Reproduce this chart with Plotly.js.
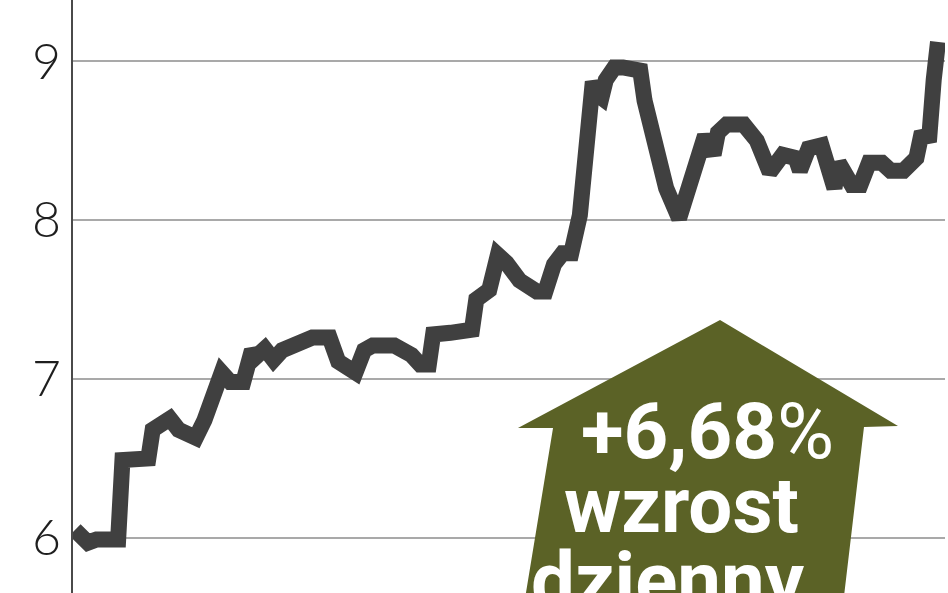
<!DOCTYPE html>
<html>
<head>
<meta charset="utf-8">
<script src="https://cdn.plot.ly/plotly-3.0.1.min.js"></script>
<style>html,body{margin:0;padding:0;background:#fff;}#chart{width:948px;height:593px;}</style>
</head>
<body>
<div id="chart"></div>
<script>
// Trading day index (x) and price (y)
var days = [0,3,5,10,11,15,17,18,20,22,24,27,28,30,32,34,36,39,41,42,44,46,48,50,53,55,59,61,65,67,69,74,78,80,82,83,87,92,93,96,98,100,103,107,109,111,113,115,117,118,119,120,121,122,123,125,127,131,132,134,136,137,140,142,145,146,148,149,151,155,158,160,161,164,167,168,170,173,174,176,177,179,180,182,184,187,189,192,195,196,198,199,200];
var prices = [6.05,5.97,5.99,5.99,6.49,6.50,6.50,6.68,6.73,6.75,6.68,6.62,6.63,6.74,6.90,7.04,6.98,6.98,7.18,7.14,7.19,7.12,7.18,7.21,7.25,7.26,7.26,7.11,7.04,7.18,7.21,7.21,7.15,7.09,7.09,7.28,7.29,7.31,7.50,7.56,7.78,7.73,7.62,7.55,7.55,7.72,7.79,7.79,8.03,8.38,8.75,8.87,8.79,8.77,8.88,8.96,8.96,8.94,8.75,8.50,8.31,8.20,8.01,8.16,8.41,8.53,8.41,8.55,8.60,8.60,8.50,8.38,8.30,8.41,8.39,8.31,8.45,8.47,8.35,8.20,8.36,8.28,8.22,8.22,8.36,8.36,8.31,8.31,8.39,8.52,8.53,8.88,9.12];
var tickVals = [6,7,8,9];
var tickText = ["6","7","8","9"];
var badgeLines = ["+6,68%","wzrost","dzienny"];

var trace = {
  x: days, y: prices, type: "scatter", mode: "lines",
  line: {color: "#404040", width: 16, shape: "linear"},
  hoverinfo: "skip"
};

// arrow outline in paper coordinates
var arrowPath = "M0.7420,0.4604 L0.9461,0.2816 L0.9071,0.2799 L0.8830,-0.02 L0.5172,-0.02 L0.5505,0.2782 L0.5103,0.2782 Z";

var layout = {
  width: 948, height: 593,
  margin: {l: 73, r: 3, t: 0, b: 0, pad: 0},
  paper_bgcolor: "#ffffff", plot_bgcolor: "#ffffff",
  showlegend: false,
  xaxis: {range: [-0.46, 201.62], visible: false, fixedrange: true},
  yaxis: {
    range: [5.653, 9.384], tickvals: tickVals, ticktext: tickText,
    showgrid: true, gridcolor: "#a9a9a9", gridwidth: 2,
    showline: true, linecolor: "#4a4a4a", linewidth: 2,
    ticks: "", ticklabelstandoff: 0,
    tickfont: {family: "Lato, Liberation Sans, Arial, sans-serif", size: 50, weight: 300, color: "#1e1e1e"},
    zeroline: false, fixedrange: true
  },
  shapes: [{
    type: "path", xref: "paper", yref: "paper", path: arrowPath,
    fillcolor: "#5b6226", line: {width: 0}, layer: "above"
  }],
  annotations: [
    {xref: "paper", yref: "paper", x: (707-73)/872, y: 1-431/593, text: "<b>" + badgeLines[0].replace("%", "</b>%"),
     showarrow: false, xanchor: "center", yanchor: "middle",
     font: {family: "Liberation Sans Narrow, Roboto, sans-serif", size: 78, color: "#ffffff"}},
    {xref: "paper", yref: "paper", x: (681-73)/872, y: 1-505/593, text: "<b>" + badgeLines[1] + "</b>",
     showarrow: false, xanchor: "center", yanchor: "middle",
     font: {family: "Liberation Sans Narrow, Roboto, sans-serif", size: 78, color: "#ffffff"}},
    {xref: "paper", yref: "paper", x: (668-73)/872, y: 1-580/593, text: "<b>" + badgeLines[2] + "</b>",
     showarrow: false, xanchor: "center", yanchor: "middle",
     font: {family: "Liberation Sans Narrow, Roboto, sans-serif", size: 78, color: "#ffffff"}}
  ]
};

Plotly.newPlot("chart", [trace], layout, {displayModeBar: false, staticPlot: true});
</script>
</body>
</html>
